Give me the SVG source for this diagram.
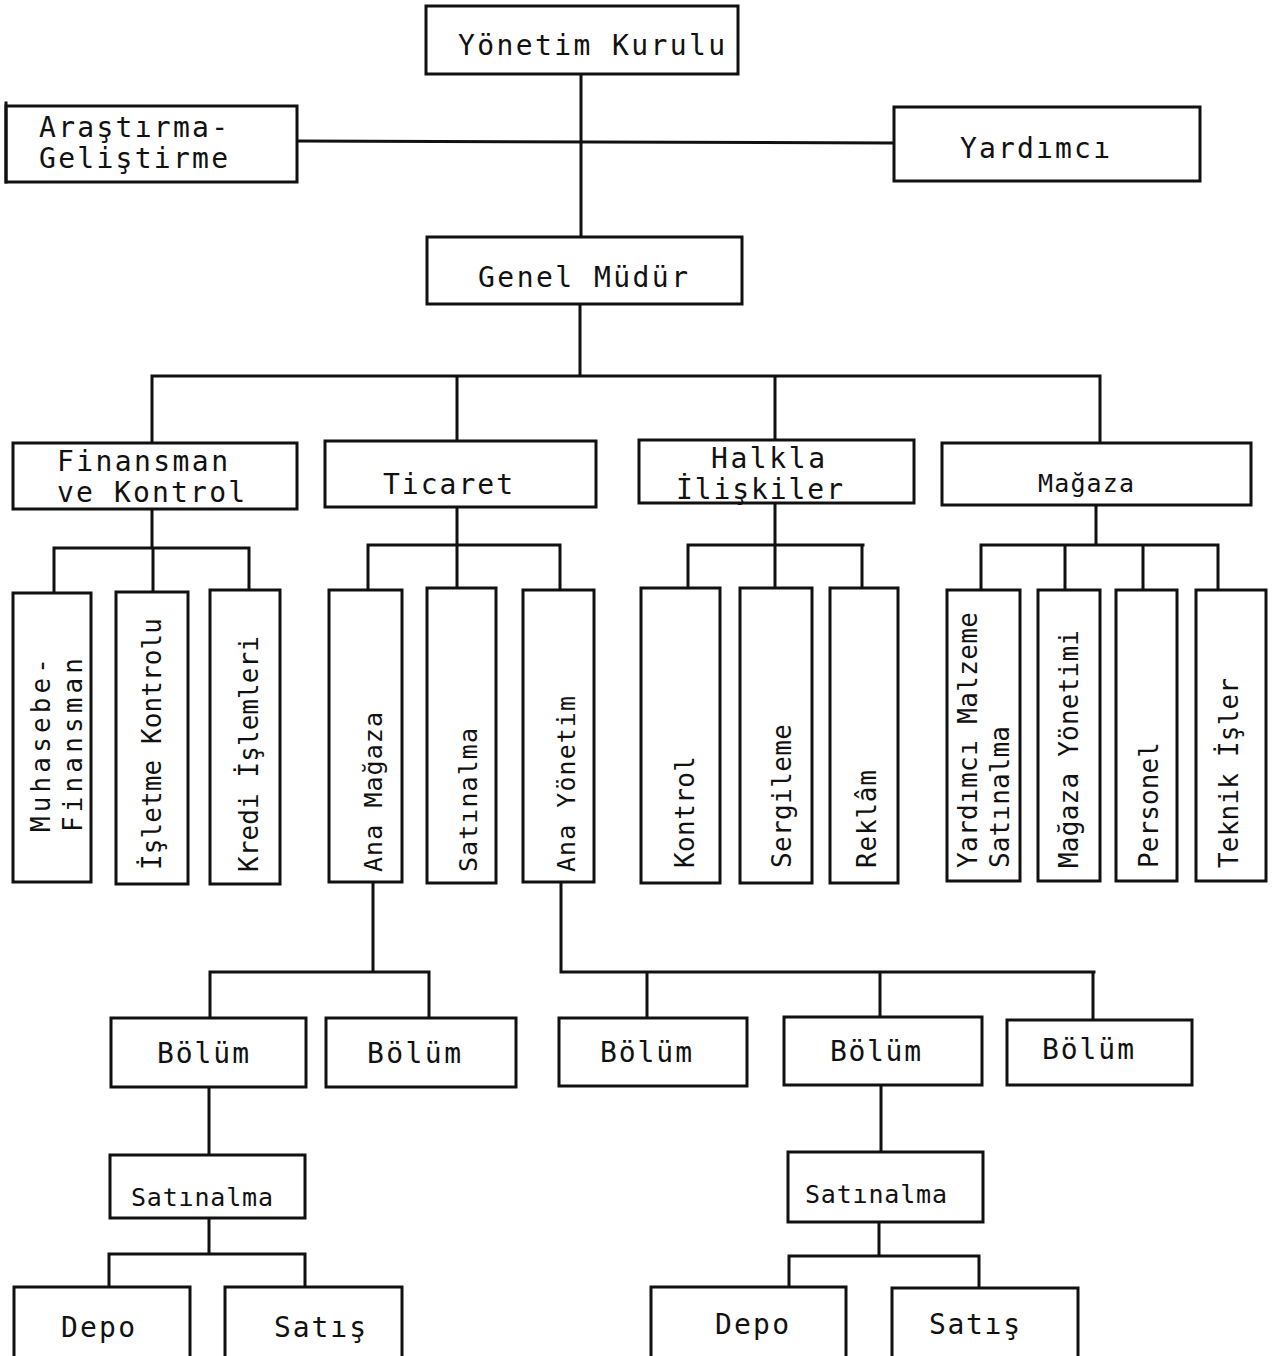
<svg xmlns="http://www.w3.org/2000/svg" width="1272" height="1356" viewBox="0 0 1272 1356">
  <style>
    .box { fill: #fff; stroke: #111; stroke-width: 3; }
    .ln { fill: none; stroke: #111; stroke-width: 3; stroke-linecap: square; }
    .t { font-family: "DejaVu Sans Mono", "Liberation Mono", monospace; font-size: 28px; fill: #111; }
    .v { font-family: "DejaVu Sans Mono", "Liberation Mono", monospace; font-size: 26px; fill: #111; }
    .s { font-family: "DejaVu Sans Mono", "Liberation Mono", monospace; font-size: 25px; fill: #111; }
  </style>
  <rect width="1272" height="1356" fill="#fff"/>

  <!-- connectors -->
  <g id="connectors" class="ln">
    <path d="M581 74 V237"/>
    <path d="M297 141 L894 143"/>
    <path d="M580 304 V376 M152 376 H1100 M152 376 V443 M457 376 V441 M775 376 V440 M1100 376 V443"/>
    <path d="M152 509 V548 M54 548 H249 M54 548 V593 M153 548 V592 M249 548 V590"/>
    <path d="M457 507 V545 M368 545 H560 M368 545 V590 M457 545 V588 M560 545 V590"/>
    <path d="M775 503 V545 M688 545 H863 M688 545 V588 M775 545 V588 M862 545 V588"/>
    <path d="M1096 505 V545 M981 545 H1218 M981 545 V590 M1065 545 V590 M1143 545 V590 M1218 545 V590"/>
    <path d="M373 882 V972 M210 972 H429 M210 972 V1018 M429 972 V1018"/>
    <path d="M561 882 V972 H1094 M647 972 V1018 M880 972 V1017 M1093 972 V1020"/>
    <path d="M209 1087 V1155 M209 1218 V1254 M109 1254 H305 M109 1254 V1287 M305 1254 V1287"/>
    <path d="M881 1085 V1152 M879 1222 V1256 M789 1256 H979 M789 1256 V1287 M979 1256 V1288"/>
  </g>

  <!-- top level -->
  <g id="yonetim-kurulu">
    <rect class="box" x="426" y="6" width="312" height="68"/>
    <text class="t" x="458" y="55" textLength="267">Yönetim Kurulu</text>
  </g>
  <g id="arastirma-gelistirme">
    <rect class="box" x="6" y="106" width="291" height="76"/>
    <path class="ln" d="M6 103 V182"/>
    <text class="t" x="39" y="137" textLength="189">Araştırma-</text>
    <text class="t" x="39" y="168" textLength="189">Geliştirme</text>
  </g>
  <g id="yardimci">
    <rect class="box" x="894" y="107" width="306" height="74"/>
    <text class="t" x="960" y="158" textLength="150">Yardımcı</text>
  </g>
  <g id="genel-mudur">
    <rect class="box" x="427" y="237" width="315" height="67"/>
    <text class="t" x="478" y="287" textLength="210">Genel Müdür</text>
  </g>

  <!-- second level -->
  <g id="finansman-kontrol">
    <rect class="box" x="13" y="443" width="284" height="66"/>
    <text class="t" x="57" y="471" textLength="171">Finansman</text>
    <text class="t" x="57" y="502" textLength="188">ve Kontrol</text>
  </g>
  <g id="ticaret">
    <rect class="box" x="325" y="441" width="271" height="66"/>
    <text class="t" x="383" y="494" textLength="130">Ticaret</text>
  </g>
  <g id="halkla-iliskiler">
    <rect class="box" x="639" y="440" width="275" height="63"/>
    <text class="t" x="711" y="468" textLength="114">Halkla</text>
    <text class="t" x="676" y="499" textLength="167">İlişkiler</text>
  </g>
  <g id="magaza">
    <rect class="box" x="942" y="443" width="309" height="62"/>
    <text class="s" x="1038" y="492" textLength="96">Mağaza</text>
  </g>

  <!-- third level: vertical labels read bottom to top -->
  <g id="muhasebe-finansman">
    <rect class="box" x="13" y="593" width="78" height="289"/>
    <text class="v" transform="translate(50 832) rotate(-90)" textLength="174">Muhasebe-</text>
    <text class="v" transform="translate(82 832) rotate(-90)" textLength="174">Finansman</text>
  </g>
  <g id="isletme-kontrolu">
    <rect class="box" x="116" y="592" width="72" height="292"/>
    <text class="v" transform="translate(161 870) rotate(-90)" textLength="252">İşletme Kontrolu</text>
  </g>
  <g id="kredi-islemleri">
    <rect class="box" x="210" y="590" width="70" height="294"/>
    <text class="v" transform="translate(258 872) rotate(-90)" textLength="236">Kredi İşlemleri</text>
  </g>
  <g id="ana-magaza">
    <rect class="box" x="329" y="590" width="73" height="292"/>
    <text class="s" transform="translate(382 872) rotate(-90)" textLength="160">Ana Mağaza</text>
  </g>
  <g id="satinalma-ticaret">
    <rect class="box" x="427" y="588" width="69" height="295"/>
    <text class="s" transform="translate(477 872) rotate(-90)" textLength="144">Satınalma</text>
  </g>
  <g id="ana-yonetim">
    <rect class="box" x="523" y="590" width="71" height="292"/>
    <text class="s" transform="translate(575 872) rotate(-90)" textLength="176">Ana Yönetim</text>
  </g>
  <g id="kontrol">
    <rect class="box" x="641" y="588" width="79" height="295"/>
    <text class="v" transform="translate(694 868) rotate(-90)" textLength="112">Kontrol</text>
  </g>
  <g id="sergileme">
    <rect class="box" x="740" y="588" width="72" height="295"/>
    <text class="v" transform="translate(791 868) rotate(-90)" textLength="144">Sergileme</text>
  </g>
  <g id="reklam">
    <rect class="box" x="830" y="588" width="68" height="295"/>
    <text class="v" transform="translate(876 868) rotate(-90)" textLength="98">Reklâm</text>
  </g>
  <g id="yardimci-malzeme-satinalma">
    <rect class="box" x="947" y="590" width="73" height="291"/>
    <text class="v" transform="translate(977 868) rotate(-90)" textLength="256">Yardımcı Malzeme</text>
    <text class="v" transform="translate(1009 868) rotate(-90)" textLength="142">Satınalma</text>
  </g>
  <g id="magaza-yonetimi">
    <rect class="box" x="1038" y="590" width="62" height="291"/>
    <text class="v" transform="translate(1078 868) rotate(-90)" textLength="238">Mağaza Yönetimi</text>
  </g>
  <g id="personel">
    <rect class="box" x="1116" y="590" width="61" height="291"/>
    <text class="v" transform="translate(1158 868) rotate(-90)" textLength="126">Personel</text>
  </g>
  <g id="teknik-isler">
    <rect class="box" x="1196" y="590" width="70" height="291"/>
    <text class="v" transform="translate(1238 868) rotate(-90)" textLength="190">Teknik İşler</text>
  </g>

  <!-- departments -->
  <g id="bolum-1">
    <rect class="box" x="111" y="1018" width="195" height="69"/>
    <text class="t" x="157" y="1063" textLength="92">Bölüm</text>
  </g>
  <g id="bolum-2">
    <rect class="box" x="326" y="1018" width="190" height="69"/>
    <text class="t" x="367" y="1063" textLength="94">Bölüm</text>
  </g>
  <g id="bolum-3">
    <rect class="box" x="559" y="1018" width="188" height="68"/>
    <text class="t" x="600" y="1062" textLength="92">Bölüm</text>
  </g>
  <g id="bolum-4">
    <rect class="box" x="784" y="1017" width="198" height="68"/>
    <text class="t" x="830" y="1061" textLength="91">Bölüm</text>
  </g>
  <g id="bolum-5">
    <rect class="box" x="1007" y="1020" width="185" height="65"/>
    <text class="t" x="1042" y="1059" textLength="92">Bölüm</text>
  </g>

  <!-- purchasing units -->
  <g id="satinalma-sol">
    <rect class="box" x="110" y="1155" width="195" height="63"/>
    <text class="s" x="131" y="1206" textLength="142">Satınalma</text>
  </g>
  <g id="satinalma-sag">
    <rect class="box" x="788" y="1152" width="195" height="70"/>
    <text class="s" x="805" y="1203" textLength="142">Satınalma</text>
  </g>

  <!-- store and sales -->
  <g id="depo-sol">
    <rect class="box" x="14" y="1287" width="176" height="72"/>
    <text class="t" x="61" y="1337" textLength="74">Depo</text>
  </g>
  <g id="satis-sol">
    <rect class="box" x="225" y="1287" width="177" height="72"/>
    <text class="t" x="274" y="1337" textLength="92">Satış</text>
  </g>
  <g id="depo-sag">
    <rect class="box" x="651" y="1287" width="195" height="72"/>
    <text class="t" x="715" y="1334" textLength="74">Depo</text>
  </g>
  <g id="satis-sag">
    <rect class="box" x="892" y="1288" width="186" height="71"/>
    <text class="t" x="929" y="1334" textLength="91">Satış</text>
  </g>
</svg>
